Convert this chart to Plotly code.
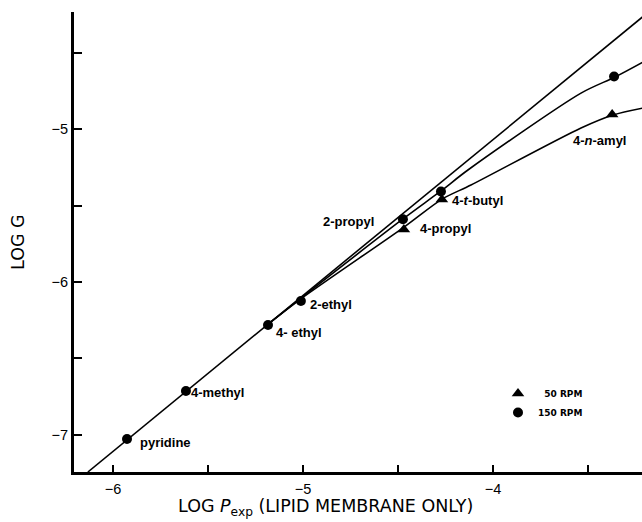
import plotly.graph_objects as go

# Measured permeabilities: log G against log P (lipid membrane only)
compounds_150 = ["pyridine", "4-methyl", "4- ethyl", "2-ethyl", "2-propyl", "4-t-butyl", "4-n-amyl"]
logP_150 = [-5.926, -5.616, -5.184, -5.011, -4.474, -4.274, -3.363]
logG_150 = [-7.026, -6.712, -6.281, -6.124, -5.590, -5.408, -4.657]

compounds_50 = ["4-propyl", "4-t-butyl", "4-n-amyl"]
logP_50 = [-4.469, -4.269, -3.373]
logG_50 = [-5.657, -5.461, -4.905]

# Reference line of unit slope
line_x = [-6.132, -3.211]
line_y = [-7.242, -4.265]

# Smooth curves drawn through each stirring-rate series
curve150_x = [-5.184, -5.011, -4.474, -4.274, -4.132, -3.537, -3.358, -3.200]
curve150_y = [-6.276, -6.106, -5.588, -5.405, -5.268, -4.765, -4.660, -4.555]
curve50_x = [-5.184, -5.011, -4.468, -4.268, -4.116, -3.537, -3.368, -3.200]
curve50_y = [-6.276, -6.110, -5.641, -5.458, -5.366, -4.993, -4.908, -4.860]

# Point labels (text, x, y, anchor)
labels = [
    ("pyridine", -5.868, -7.046, "left"),
    ("4-methyl", -5.598, -6.725, "left"),
    ("4- ethyl", -5.155, -6.327, "left"),
    ("2-ethyl", -4.976, -6.144, "left"),
    ("2-propyl", -4.614, -5.604, "right"),
    ("4-propyl", -4.397, -5.648, "left"),
    ("4-<i>t</i>-butyl", -4.228, -5.468, "left"),
    ("4-<i>n</i>-amyl", -3.592, -5.078, "left"),
]

xticks = [-6, -5, -4]
xticktext = ["\u22126", "\u22125", "\u22124"]
yticks = [-7, -6, -5]
yticktext = ["\u22127", "\u22126", "\u22125"]

fig = go.Figure()

fig.add_trace(go.Scatter(x=line_x, y=line_y, mode="lines",
                         line=dict(color="black", width=1.6),
                         showlegend=False, hoverinfo="skip"))
fig.add_trace(go.Scatter(x=curve150_x, y=curve150_y, mode="lines",
                         line=dict(color="black", width=1.6, shape="spline", smoothing=0.8),
                         showlegend=False, hoverinfo="skip"))
fig.add_trace(go.Scatter(x=curve50_x, y=curve50_y, mode="lines",
                         line=dict(color="black", width=1.6, shape="spline", smoothing=0.8),
                         showlegend=False, hoverinfo="skip"))

fig.add_trace(go.Scatter(x=logP_50, y=logG_50, mode="markers", name="\u200750 RPM",
                         text=compounds_50,
                         marker=dict(symbol="triangle-up", size=11, color="black")))
fig.add_trace(go.Scatter(x=logP_150, y=logG_150, mode="markers", name="150 RPM",
                         text=compounds_150,
                         marker=dict(symbol="circle", size=10, color="black")))

label_font = dict(family="Liberation Sans, Arial, sans-serif", size=13, color="black")
annotations = []
for text, x, y, anchor in labels:
    annotations.append(dict(x=x, y=y, xref="x", yref="y", text="<b>" + text + "</b>",
                            showarrow=False, xanchor=anchor, yanchor="middle",
                            font=label_font))

title_font = dict(family="DejaVu Sans, sans-serif", size=17.5, color="black")
annotations.append(dict(
    x=(325 - 74) / 568, y=-49 / 460, xref="paper", yref="paper",
    text="LOG <i>P</i><sub>exp</sub> (LIPID MEMBRANE ONLY)",
    showarrow=False, xanchor="center", yanchor="bottom", font=title_font))
annotations.append(dict(
    x=-56 / 568, y=0.5, xref="paper", yref="paper",
    text="LOG G", textangle=-90,
    showarrow=False, xanchor="center", yanchor="middle", font=title_font))

tick_font = dict(family="Liberation Sans, Arial, sans-serif", size=14.5, color="black")

fig.update_layout(
    width=642, height=522,
    margin=dict(l=74, r=0, t=12, b=50),
    paper_bgcolor="white", plot_bgcolor="white",
    annotations=annotations,
    showlegend=True,
    legend=dict(x=(498 - 74) / 568, y=(472 - 379) / 460, xanchor="left", yanchor="top",
                bgcolor="rgba(0,0,0,0)", tracegroupgap=0, itemwidth=30,
                font=dict(family="DejaVu Sans, sans-serif", size=9, color="black",
                          weight="bold")),
    xaxis=dict(range=[-6.205, -3.216], tickvals=xticks, ticktext=xticktext,
               ticks="inside", ticklen=7, tickwidth=2, tickcolor="black",
               ticklabelstandoff=2,
               minor=dict(tick0=-6, dtick=0.5, ticks="inside", ticklen=7,
                          tickwidth=2, tickcolor="black"),
               showline=True, linecolor="black", linewidth=2.5,
               showgrid=False, zeroline=False, tickfont=tick_font),
    yaxis=dict(range=[-7.242, -4.235], tickvals=yticks, ticktext=yticktext,
               ticks="inside", ticklen=8, tickwidth=2, tickcolor="black",
               minor=dict(tick0=-7, dtick=0.5, ticks="inside", ticklen=8,
                          tickwidth=2, tickcolor="black"),
               showline=True, linecolor="black", linewidth=3,
               showgrid=False, zeroline=False, tickfont=tick_font),
)

fig.write_html("out.html")
